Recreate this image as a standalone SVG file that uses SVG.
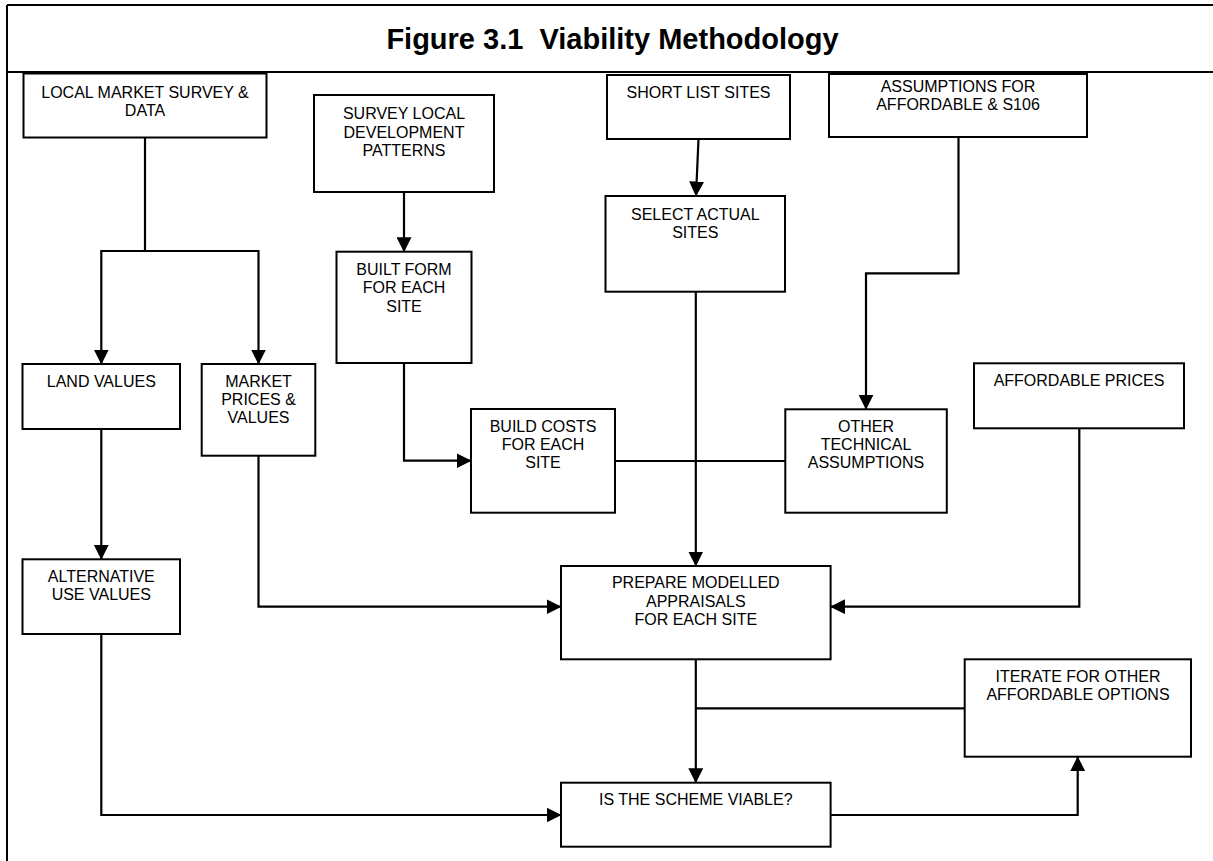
<svg xmlns="http://www.w3.org/2000/svg" width="1213" height="861" viewBox="0 0 1213 861">
<style>
.box{fill:#fff;stroke:#000;stroke-width:2}
.t{font-family:"Liberation Sans",Arial,sans-serif;font-size:16px;fill:#000;text-anchor:middle}
.title{font-family:"Liberation Sans",Arial,sans-serif;font-size:29px;font-weight:bold;fill:#000;text-anchor:middle;white-space:pre}
.c{fill:none;stroke:#000;stroke-width:2.2}
.frame{fill:none;stroke:#000;stroke-width:2}
</style>
<defs>
<marker id="arr" markerUnits="userSpaceOnUse" markerWidth="15" markerHeight="15" viewBox="0 0 15 15" refX="14.5" refY="7.5" orient="auto">
<path d="M0,0 L15,7.5 L0,15 z" fill="#000"/>
</marker>
</defs>
<rect width="1213" height="861" fill="#fff"/>
<g id="frame">
<path class="frame" d="M7,5 H1213 M7,5 V861 M7,72 H1213"/>
<text class="title" x="612.5" y="48.5" xml:space="preserve">Figure 3.1  Viability Methodology</text>
</g>
<g id="connectors">
<path class="c" d="M145,137.5 V251"/>
<path class="c" d="M146,251 H101.3 V364" marker-end="url(#arr)"/>
<path class="c" d="M144,251 H258.5 V364" marker-end="url(#arr)"/>
<path class="c" d="M404,192 V251.7" marker-end="url(#arr)"/>
<path class="c" d="M404,363 V460.7 H471" marker-end="url(#arr)"/>
<path class="c" d="M698.5,139 L696,196" marker-end="url(#arr)"/>
<path class="c" d="M958.5,137 V273.3 H866 V409.3" marker-end="url(#arr)"/>
<path class="c" d="M615,461 H785.3"/>
<path class="c" d="M695.8,291.7 V566" marker-end="url(#arr)"/>
<path class="c" d="M101.3,429 V559.3" marker-end="url(#arr)"/>
<path class="c" d="M258.5,455.7 V606.7 H561" marker-end="url(#arr)"/>
<path class="c" d="M1079.3,428.3 V606.7 H830.6" marker-end="url(#arr)"/>
<path class="c" d="M695.8,659.3 V782.7" marker-end="url(#arr)"/>
<path class="c" d="M964.7,708.3 H695.8"/>
<path class="c" d="M101.3,634 V815 H561" marker-end="url(#arr)"/>
<path class="c" d="M830.6,815 H1077.7 V756.7" marker-end="url(#arr)"/>
</g>
<g id="local-market">
<rect class="box" x="23.5" y="73.5" width="243" height="64"/>
<text class="t" x="145" y="97.5">LOCAL MARKET SURVEY &amp;</text>
<text class="t" x="145" y="115.5">DATA</text>
</g>
<g id="survey-local">
<rect class="box" x="314" y="95" width="180" height="97"/>
<text class="t" x="404" y="119">SURVEY LOCAL</text>
<text class="t" x="404" y="137.5">DEVELOPMENT</text>
<text class="t" x="404" y="156">PATTERNS</text>
</g>
<g id="short-list">
<rect class="box" x="607" y="75" width="183" height="64"/>
<text class="t" x="698.5" y="98">SHORT LIST SITES</text>
</g>
<g id="assumptions">
<rect class="box" x="829" y="74" width="258" height="63"/>
<text class="t" x="958" y="92">ASSUMPTIONS FOR</text>
<text class="t" x="958" y="110">AFFORDABLE &amp; S106</text>
</g>
<g id="select-sites">
<rect class="box" x="605.5" y="196" width="179.5" height="95.7"/>
<text class="t" x="695.3" y="220">SELECT ACTUAL</text>
<text class="t" x="695.3" y="238.3">SITES</text>
</g>
<g id="built-form">
<rect class="box" x="336.5" y="251.7" width="135" height="111.3"/>
<text class="t" x="404" y="275">BUILT FORM</text>
<text class="t" x="404" y="293.3">FOR EACH</text>
<text class="t" x="404" y="311.7">SITE</text>
</g>
<g id="land-values">
<rect class="box" x="22.5" y="364" width="157.5" height="65"/>
<text class="t" x="101.3" y="386.7">LAND VALUES</text>
</g>
<g id="market-prices">
<rect class="box" x="201.7" y="364" width="113.6" height="91.7"/>
<text class="t" x="258.5" y="386.7">MARKET</text>
<text class="t" x="258.5" y="405">PRICES &amp;</text>
<text class="t" x="258.5" y="423.3">VALUES</text>
</g>
<g id="build-costs">
<rect class="box" x="471" y="409" width="144" height="103.7"/>
<text class="t" x="543" y="431.7">BUILD COSTS</text>
<text class="t" x="543" y="450">FOR EACH</text>
<text class="t" x="543" y="468.3">SITE</text>
</g>
<g id="other-technical">
<rect class="box" x="785.3" y="409.3" width="161.5" height="103.4"/>
<text class="t" x="866" y="431.7">OTHER</text>
<text class="t" x="866" y="450">TECHNICAL</text>
<text class="t" x="866" y="468.3">ASSUMPTIONS</text>
</g>
<g id="affordable-prices">
<rect class="box" x="974" y="363.3" width="210" height="65"/>
<text class="t" x="1079" y="385.7">AFFORDABLE PRICES</text>
</g>
<g id="alternative-use">
<rect class="box" x="22.5" y="559.3" width="157.5" height="74.7"/>
<text class="t" x="101.3" y="581.7">ALTERNATIVE</text>
<text class="t" x="101.3" y="600">USE VALUES</text>
</g>
<g id="prepare-appraisals">
<rect class="box" x="561" y="566" width="269.6" height="93.3"/>
<text class="t" x="695.8" y="588.3">PREPARE MODELLED</text>
<text class="t" x="695.8" y="606.7">APPRAISALS</text>
<text class="t" x="695.8" y="625">FOR EACH SITE</text>
</g>
<g id="iterate">
<rect class="box" x="964.7" y="659.3" width="226.3" height="97.4"/>
<text class="t" x="1078" y="681.7">ITERATE FOR OTHER</text>
<text class="t" x="1078" y="700">AFFORDABLE OPTIONS</text>
</g>
<g id="is-viable">
<rect class="box" x="561" y="782.7" width="269.6" height="64"/>
<text class="t" x="695.8" y="805">IS THE SCHEME VIABLE?</text>
</g>
</svg>
